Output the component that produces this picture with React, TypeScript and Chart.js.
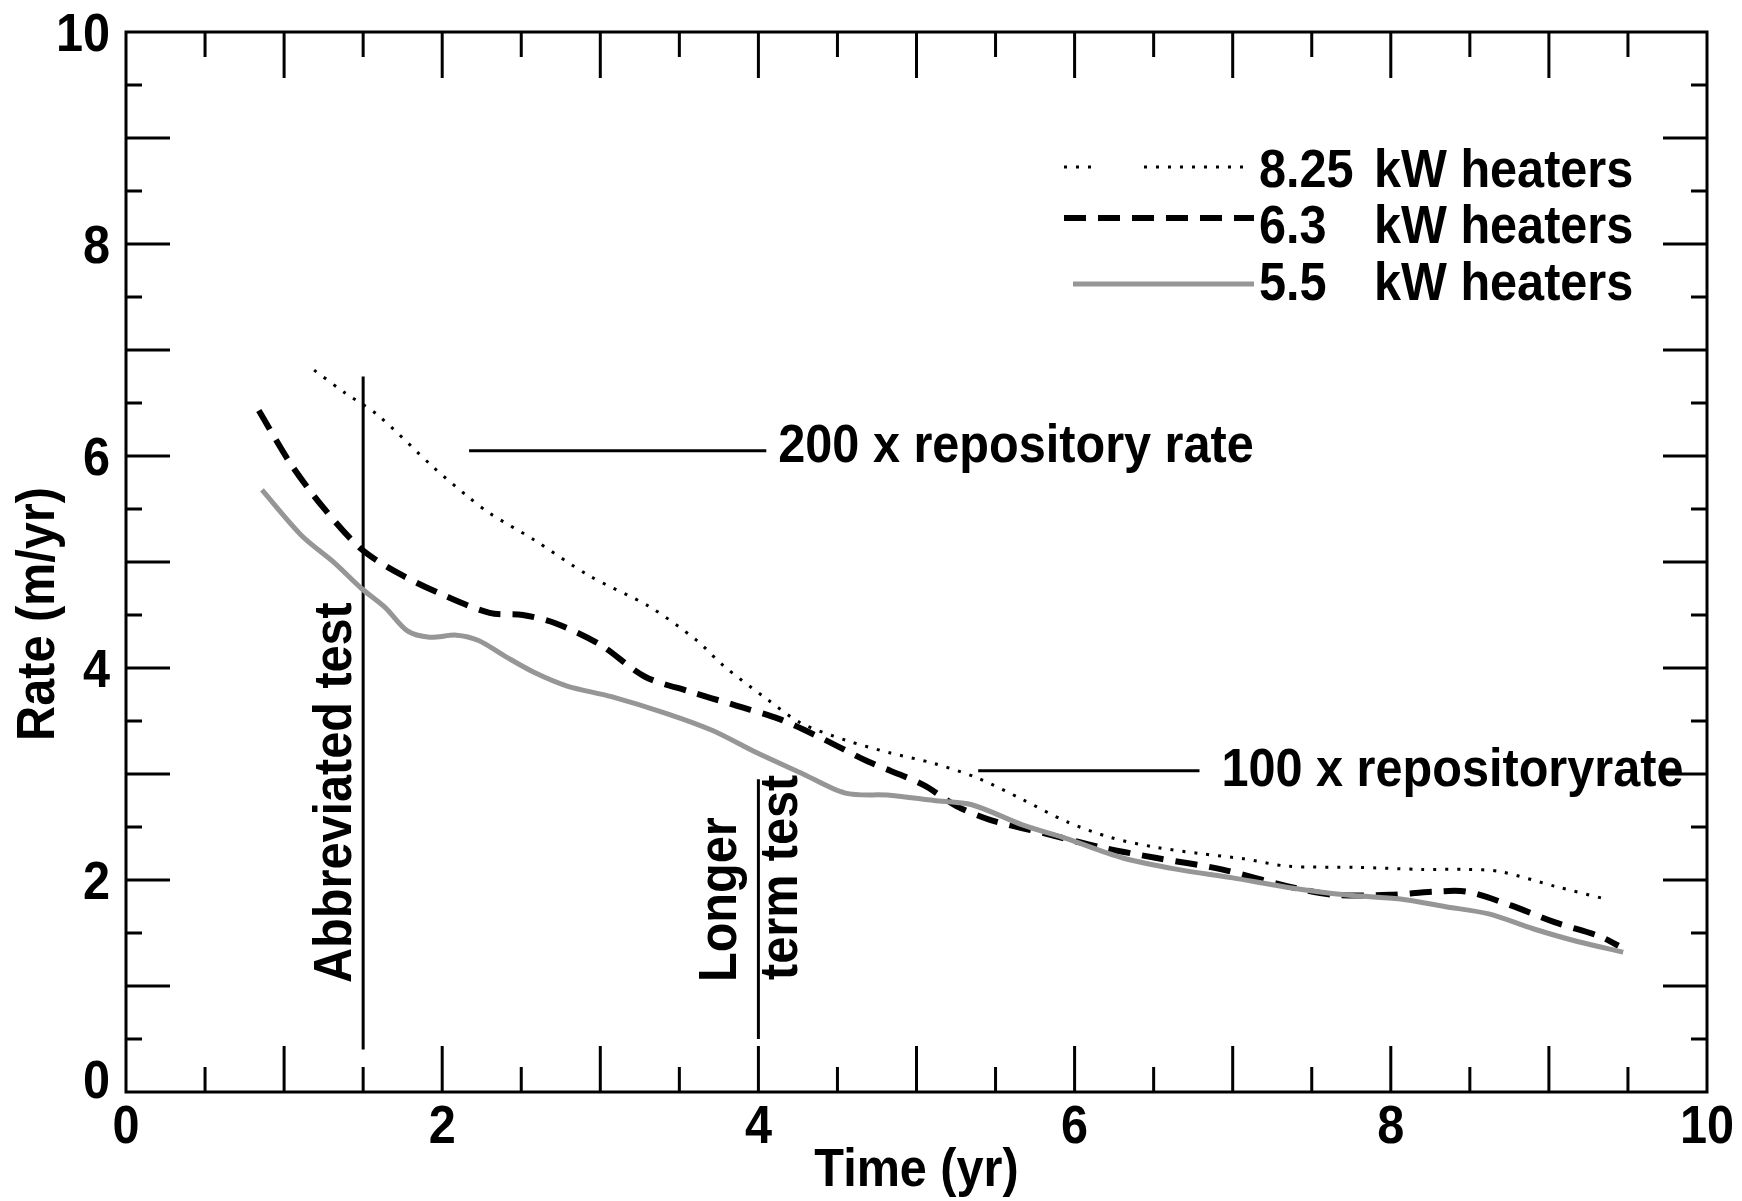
import React, { useEffect, useRef } from 'react';
import { Chart, registerables } from 'chart.js';

Chart.register(...registerables);

const FONT = 'bold 54px "Liberation Sans", Arial, Helvetica, sans-serif';
const TEXT_SX = 0.9;

// ---- data (time in yr, rate in m/yr) ----
const heater825Time = [1.19, 1.39, 1.59, 1.94, 2.16, 2.30, 2.58, 2.93, 3.31, 3.61, 3.78, 4.06, 4.27, 4.55, 4.83, 5.11, 5.39, 5.67, 5.95, 6.23, 6.51, 6.79, 7.07, 7.35, 7.78, 8.20, 8.48, 8.69, 9.04, 9.36];
const heater825Rate = [6.81, 6.59, 6.39, 5.90, 5.62, 5.46, 5.21, 4.87, 4.58, 4.26, 4.02, 3.70, 3.48, 3.32, 3.20, 3.10, 2.96, 2.76, 2.55, 2.40, 2.31, 2.25, 2.20, 2.13, 2.12, 2.10, 2.10, 2.08, 1.94, 1.82];

const heater63Time = [0.84, 1.04, 1.25, 1.49, 1.74, 2.02, 2.30, 2.51, 2.72, 3.00, 3.28, 3.56, 3.85, 4.13, 4.41, 4.69, 5.04, 5.25, 5.46, 5.81, 6.16, 6.51, 6.93, 7.35, 7.64, 7.99, 8.27, 8.48, 8.76, 9.04, 9.32, 9.44];
const heater63Rate = [6.43, 5.93, 5.51, 5.12, 4.88, 4.68, 4.52, 4.50, 4.42, 4.22, 3.92, 3.78, 3.65, 3.52, 3.33, 3.12, 2.90, 2.70, 2.57, 2.44, 2.31, 2.21, 2.10, 1.94, 1.86, 1.86, 1.89, 1.89, 1.76, 1.60, 1.47, 1.38];

const heater55Time = [0.86, 1.11, 1.32, 1.49, 1.64, 1.78, 1.92, 2.09, 2.23, 2.41, 2.58, 2.79, 3.07, 3.42, 3.71, 3.99, 4.27, 4.55, 4.83, 5.11, 5.35, 5.67, 5.95, 6.30, 6.65, 7.00, 7.35, 7.71, 8.06, 8.34, 8.62, 8.90, 9.18, 9.47];
const heater55Rate = [5.68, 5.25, 4.99, 4.75, 4.57, 4.35, 4.29, 4.31, 4.26, 4.10, 3.96, 3.83, 3.73, 3.57, 3.41, 3.20, 3.01, 2.82, 2.80, 2.75, 2.71, 2.52, 2.39, 2.21, 2.10, 2.02, 1.93, 1.86, 1.82, 1.75, 1.68, 1.54, 1.42, 1.32];

// annotation lines
const abbreviatedLineTime = [1.5, 1.5];
const abbreviatedLineRate = [0.4, 6.75];
const longerLineTime = [4.0, 4.0];
const longerLineRate = [0.5, 2.95];
const rate200LineTime = [2.17, 4.05];
const rate200LineRate = [6.05, 6.05];
const rate100LineTime = [5.39, 6.79];
const rate100LineRate = [3.03, 3.03];

// tick labels
const xTickValues = [0, 2, 4, 6, 8, 10];
const xTickLabels = ['0', '2', '4', '6', '8', '10'];
const yTickValues = [0, 2, 4, 6, 8, 10];
const yTickLabels = ['0', '2', '4', '6', '8', '10'];

// texts
const xTitle = 'Time (yr)';
const yTitle = 'Rate (m/yr)';
const legendValues = ['8.25', '6.3', '5.5'];
const legendUnit = 'kW heaters';
const abbreviatedText = 'Abbreviated test';
const longerText1 = 'Longer';
const longerText2 = 'term test';
const rate200Text = '200 x repository rate';
const rate100Text = '100 x repositoryrate';

const GRAY = 'rgb(150,150,150)';
const STYLE825 = { color: '#000', width: 3, dash: [3, 9] };
const STYLE63 = { color: '#000', width: 6, dash: [22, 12] };
const STYLE55 = { color: GRAY, width: 5, dash: [] as number[] };

const pts = (t: number[], r: number[]) => t.map((v, i) => ({ x: v, y: r[i] }));

function drawText(ctx: CanvasRenderingContext2D, text: string, x: number, y: number, align: CanvasTextAlign, rotated = false) {
  ctx.save();
  ctx.translate(x, y);
  if (rotated) ctx.rotate(-Math.PI / 2);
  ctx.scale(TEXT_SX, 1);
  ctx.textAlign = align;
  ctx.textBaseline = 'alphabetic';
  ctx.fillText(text, 0, 0);
  ctx.restore();
}

const decorPlugin = {
  id: 'decor',
  afterDraw(chart: any) {
    const { ctx, chartArea: a, scales } = chart;
    const xs = scales.x;
    const ys = scales.y;
    ctx.save();
    ctx.strokeStyle = '#000';
    ctx.fillStyle = '#000';
    ctx.lineWidth = 3;
    ctx.setLineDash([]);
    ctx.strokeRect(a.left, a.top, a.right - a.left, a.bottom - a.top);

    // inward ticks
    ctx.beginPath();
    for (let v = 0.5; v < 10; v += 0.5) {
      const major = Math.abs(v - Math.round(v)) < 1e-6;
      const px = xs.getPixelForValue(v);
      const lx = major ? 46 : 25;
      ctx.moveTo(px, a.bottom); ctx.lineTo(px, a.bottom - lx);
      ctx.moveTo(px, a.top); ctx.lineTo(px, a.top + lx);
      const py = ys.getPixelForValue(v);
      const ly = major ? 44 : 16;
      ctx.moveTo(a.left, py); ctx.lineTo(a.left + ly, py);
      ctx.moveTo(a.right, py); ctx.lineTo(a.right - ly, py);
    }
    ctx.stroke();

    ctx.font = FONT;
    // x tick labels
    xTickValues.forEach((v, i) => {
      drawText(ctx, xTickLabels[i], xs.getPixelForValue(v), a.bottom + 51, 'center');
    });
    // y tick labels
    yTickValues.forEach((v, i) => {
      const yy = Math.min(ys.getPixelForValue(v) + 19, a.bottom + 6);
      drawText(ctx, yTickLabels[i], a.left - 16, yy, 'right');
    });

    // axis titles
    drawText(ctx, xTitle, (a.left + a.right) / 2, 1186, 'center');
    drawText(ctx, yTitle, 54, 614, 'center', true);

    // rotated annotation texts
    const x15 = xs.getPixelForValue(abbreviatedLineTime[0]);
    drawText(ctx, abbreviatedText, x15 - 12, 983, 'left', true);
    const x4 = xs.getPixelForValue(longerLineTime[0]);
    drawText(ctx, longerText1, x4 - 22, 982, 'left', true);
    drawText(ctx, longerText2, x4 + 39, 980, 'left', true);

    // horizontal annotation texts
    drawText(ctx, rate200Text, xs.getPixelForValue(rate200LineTime[1]) + 12, ys.getPixelForValue(rate200LineRate[1]) + 11, 'left');
    drawText(ctx, rate100Text, xs.getPixelForValue(rate100LineTime[1]) + 22, ys.getPixelForValue(rate100LineRate[1]) + 15, 'left');

    // legend
    const rows = [168, 224, 281];
    const lineRows = [167, 218, 284];
    const styles = [STYLE825, STYLE63, STYLE55];
    rows.forEach((ry, i) => {
      const st = styles[i];
      const ly = lineRows[i];
      ctx.save();
      ctx.strokeStyle = st.color;
      ctx.lineWidth = st.width;
      ctx.setLineDash(st.dash);
      ctx.beginPath();
      if (i === 0) {
        ctx.moveTo(1064, ly); ctx.lineTo(1098, ly);
        ctx.moveTo(1144, ly); ctx.lineTo(1250, ly);
      } else {
        ctx.moveTo(i === 2 ? 1073 : 1064, ly); ctx.lineTo(1254, ly);
      }
      ctx.stroke();
      ctx.restore();
      drawText(ctx, legendValues[i], 1259, ry + 19, 'left');
      drawText(ctx, legendUnit, 1374, ry + 19, 'left');
    });
    ctx.restore();
  },
};

export default function App() {
  const ref = useRef<HTMLCanvasElement | null>(null);
  useEffect(() => {
    if (!ref.current) return;
    const annot = (t: number[], r: number[]) => ({
      data: pts(t, r),
      borderColor: '#000',
      borderWidth: 3,
      pointRadius: 0,
      tension: 0,
      fill: false,
    });
    const chart = new Chart(ref.current, {
      type: 'line',
      data: {
        datasets: [
          { label: '5.5 kW heaters', data: pts(heater55Time, heater55Rate), borderColor: STYLE55.color, borderWidth: STYLE55.width, borderDash: STYLE55.dash, pointRadius: 0, tension: 0.3, fill: false },
          { label: '6.3 kW heaters', data: pts(heater63Time, heater63Rate), borderColor: STYLE63.color, borderWidth: STYLE63.width, borderDash: STYLE63.dash, pointRadius: 0, tension: 0.3, fill: false },
          { label: '8.25 kW heaters', data: pts(heater825Time, heater825Rate), borderColor: STYLE825.color, borderWidth: STYLE825.width, borderDash: STYLE825.dash, pointRadius: 0, tension: 0.3, fill: false },
          { label: 'abbreviated', ...annot(abbreviatedLineTime, abbreviatedLineRate) },
          { label: 'longer', ...annot(longerLineTime, longerLineRate) },
          { label: '200x', ...annot(rate200LineTime, rate200LineRate) },
          { label: '100x', ...annot(rate100LineTime, rate100LineRate) },
        ] as any,
      },
      options: {
        responsive: false,
        animation: false,
        devicePixelRatio: 1,
        parsing: true,
        layout: { padding: { left: 126, top: 32, right: 35, bottom: 109 } },
        scales: {
          x: { type: 'linear', min: 0, max: 10, display: false },
          y: { type: 'linear', min: 0, max: 10, display: false },
        },
        plugins: { legend: { display: false }, tooltip: { enabled: false } },
        elements: { point: { radius: 0 } },
      } as any,
      plugins: [decorPlugin],
    });
    return () => chart.destroy();
  }, []);
  return (
    <div style={{ position: 'absolute', left: 0, top: 0, width: 1742, height: 1201, background: '#fff' }}>
      <canvas ref={ref} width={1742} height={1201} style={{ width: 1742, height: 1201, display: 'block' }} />
    </div>
  );
}
